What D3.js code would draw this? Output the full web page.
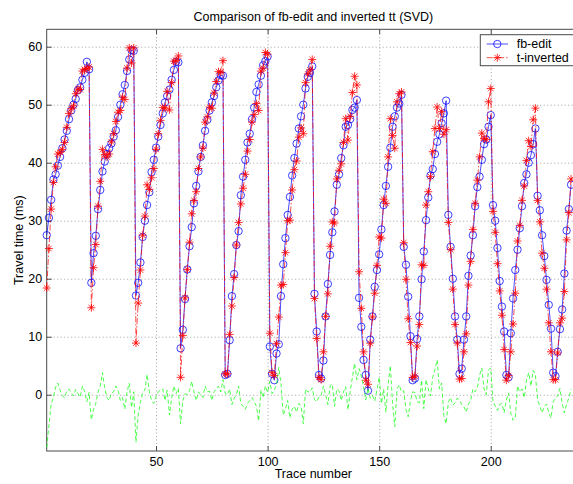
<!DOCTYPE html>
<html>
<head>
<meta charset="utf-8">
<script src="https://cdn.jsdelivr.net/npm/d3@7"></script>
<style>
  body { margin: 0; background: #fff; }
  text { font-family: "Liberation Sans", Arial, sans-serif; }
</style>
</head>
<body>
<svg id="chart" width="573" height="484"></svg>
<script>
// trace numbers along the line
var traces = d3.range(1, 237);

// picked (fb-edit) travel times, ms
var fbEdit = [
  27.5, 30.5, 33.6, 37.1, 38.0, 39.5, 41.0, 42.5, 44.0, 45.5, 47.5, 49.0, 50.0, 51.0, 52.5, 53.0, 54.3, 55.5, 57.4, 56.1,
  19.3, 24.4, 27.4, 32.0, 35.3, 38.5, 40.2, 41.5, 42.5, 43.3, 44.5, 45.6, 47.9, 50.0, 51.8, 53.4, 55.8, 57.8, 59.4, 59.3,
  17.1, 19.3, 22.8, 27.2, 30.0, 32.7, 34.9, 38.4, 40.5, 42.6, 44.5, 46.5, 48.5, 50.4, 51.5, 52.6, 54.3, 56.0, 57.4, 57.3,
  8.0, 11.2, 16.5, 21.6, 25.6, 28.9, 33.0, 36.0, 38.5, 41.0, 43.0, 45.5, 47.4, 49.0, 50.4, 51.5, 53.0, 54.2, 55.1, 55.0,
  3.4, 3.6, 9.4, 17.0, 20.8, 25.8, 28.2, 34.4, 37.6, 40.5, 43.5, 45.0, 47.5, 49.5, 52.2, 53.5, 55.0, 56.8, 57.5, 58.3,
  8.3, 3.6, 2.5, 7.1, 8.7, 17.0, 22.5, 27.0, 31.0, 34.1, 37.8, 40.8, 43.3, 45.9, 48.0, 50.0, 52.8, 54.8, 55.5, 56.6,
  17.4, 10.9, 3.4, 2.8, 5.9, 13.5, 19.1, 24.1, 28.0, 31.6, 36.2, 38.0, 40.8, 43.0, 46.2, 46.5, 47.5, 49.1, 49.5, 50.8,
  16.7, 11.7, 6.0, 3.4, 0.7, 9.5, 13.5, 18.6, 21.5, 24.2, 28.5, 32.7, 36.0, 39.3, 42.6, 46.2, 48.0, 49.5, 50.2, 51.7,
  25.5, 22.4, 16.9, 10.1, 2.5, 2.8, 9.6, 13.5, 19.9, 24.7, 30.1, 34.0, 37.8, 38.9, 41.5, 43.6, 44.9, 46.8, 48.5, 50.7,
  31.0, 25.5, 20.0, 13.5, 9.5, 3.6, 4.5, 9.5, 13.5, 20.5, 24.0, 27.5, 32.5, 35.8, 37.6, 40.5, 43.2, 44.0, 46.2, 48.2,
  32.7, 30.0, 25.3, 19.6, 15.2, 10.9, 3.4, 3.0, 10.6, 16.6, 21.5, 25.0, 28.7, 32.5, 36.5, 38.0, 40.0, 41.3, 43.2, 45.9,
  34.3, 31.8, 27.5, 23.9, 19.8, 15.5, 11.4, 3.8, 3.2, 7.4, 11.3, 14.7, 20.9, 28.3, 32.0, 36.2
];

// inverted travel times (SVD), ms
var tInverted = [
  18.4, 25.2, 32.0, 36.6, 39.3, 41.5, 41.8, 42.3, 43.5, 46.1, 48.5, 49.3, 49.8, 51.9, 52.7, 52.6, 55.8, 56.1, 56.2, 56.5,
  15.0, 21.9, 25.9, 32.5, 36.8, 42.3, 41.4, 41.0, 41.5, 43.6, 45.0, 47.1, 48.7, 49.0, 51.3, 50.9, 56.3, 59.8, 57.2, 59.8,
  8.9, 15.8, 21.5, 27.5, 30.8, 36.2, 35.4, 37.4, 39.0, 42.3, 45.0, 47.3, 49.5, 49.4, 52.3, 49.1, 53.8, 57.5, 57.6, 58.4,
  3.0, 10.2, 16.7, 21.6, 26.3, 31.2, 33.5, 35.0, 39.0, 41.0, 42.5, 47.0, 47.9, 49.6, 49.4, 52.0, 54.0, 55.7, 55.6, 57.6,
  3.6, 3.6, 10.4, 15.3, 20.2, 25.8, 29.7, 32.9, 35.6, 38.0, 42.0, 44.0, 47.0, 48.3, 50.2, 49.0, 55.8, 56.3, 59.0, 58.7,
  10.6, 3.8, 3.3, 8.8, 13.4, 18.9, 19.0, 24.5, 30.0, 30.1, 35.3, 38.8, 40.3, 44.4, 46.0, 45.0, 53.8, 55.3, 56.0, 57.8,
  16.6, 9.7, 3.0, 2.6, 7.4, 13.5, 17.4, 25.6, 29.8, 29.6, 37.2, 38.7, 39.8, 43.5, 47.6, 43.9, 48.0, 52.1, 54.9, 53.4,
  21.2, 14.9, 7.4, 2.5, 1.8, 8.9, 13.4, 17.5, 22.3, 27.2, 27.0, 33.7, 33.0, 41.0, 47.6, 44.7, 42.5, 50.5, 51.9, 52.2,
  26.2, 19.9, 13.1, 9.0, 3.0, 3.2, 8.4, 12.1, 22.4, 22.3, 32.7, 35.0, 37.6, 41.9, 45.9, 49.6, 45.9, 48.8, 44.9, 45.7,
  29.7, 25.0, 18.2, 12.1, 8.9, 2.7, 2.8, 7.4, 10.5, 18.9, 23.0, 28.5, 33.0, 37.0, 41.0, 45.1, 44.2, 44.0, 50.5, 52.8,
  31.6, 28.0, 22.6, 17.9, 13.7, 7.8, 2.5, 3.3, 7.4, 12.2, 17.5, 26.5, 29.2, 33.5, 36.0, 40.4, 43.8, 42.8, 47.4, 49.4,
  33.5, 29.8, 24.4, 21.8, 18.2, 12.4, 7.4, 2.6, 2.6, 7.2, 12.4, 13.2, 17.8, 26.7, 31.4, 37.2
];

// difference curve (green dashed)
var ttDiff = [
  -9.1, -5.3, -1.6, -0.5, 1.3, 2.0, 0.8, -0.2, -0.5, 0.6, 1.0, 0.3, -0.2, 0.9, 0.2, -0.4, 1.5, 0.6, -1.2, 0.4,
  -4.3, -2.5, -1.5, 0.5, 1.5, 3.8, 1.2, -0.5, -1.0, 0.3, 0.5, 1.5, 0.8, -1.0, -0.5, -2.5, 0.5, 2.0, -2.2, 0.5,
  -8.2, -3.5, -1.3, 0.3, 0.8, 3.5, 0.5, -1.0, -1.5, -0.3, 0.5, 0.8, 1.0, -1.0, 0.8, -3.5, -0.5, 1.5, 0.2, 1.1,
  -5.0, -1.0, 0.2, 0.0, 0.7, 2.3, 0.5, -1.0, 0.5, 0.0, -0.5, 1.5, 0.5, 0.6, -1.0, 0.5, 1.0, 1.5, 0.5, 2.6,
  0.2, 0.0, 1.0, -1.7, -0.6, 0.0, 1.5, -1.5, -2.0, -2.5, -1.5, -1.0, -0.5, -1.2, -2.0, -4.5, 0.8, -0.5, 1.5, 0.4,
  2.3, 0.2, 0.8, 1.7, 4.7, 1.9, -3.5, -2.5, -1.0, -4.0, -2.5, -2.0, -3.0, -1.5, -2.0, -5.0, 1.0, 0.5, 0.5, 1.2,
  -0.8, -1.2, -0.4, -0.2, 1.5, 0.0, -1.7, 1.5, 1.8, -2.0, 1.0, 0.7, -1.0, 0.5, 1.4, -2.6, 0.5, 3.0, 5.4, 2.6,
  4.5, 3.2, 1.4, -0.9, 1.1, -0.6, -0.1, -1.1, 0.8, 3.0, -1.5, 1.0, -3.0, 1.7, 5.0, -1.5, -5.5, 1.0, 1.7, 0.5,
  0.7, -2.5, -3.8, -1.1, 0.5, 0.4, -1.2, -1.4, 2.5, -2.4, 2.6, 1.0, -0.2, 3.0, 4.4, 6.0, 1.0, 2.0, -3.6, -5.0,
  -1.3, -0.5, -1.8, -1.4, -0.6, -0.9, -1.7, -2.1, -3.0, -1.6, -1.0, 1.0, 0.5, 1.2, 3.4, 4.6, 1.0, 0.0, 4.3, 4.6,
  -1.1, -2.0, -2.7, -1.7, -1.5, -3.1, -0.9, 0.3, -3.2, -4.4, -4.0, 1.5, 0.5, 1.0, -0.5, 2.4, 3.8, 1.5, 4.2, 3.5,
  -0.8, -2.0, -3.1, -2.1, -1.6, -3.1, -4.0, -1.2, -0.6, -0.2, 1.1, -1.5, -3.1, -1.6, -0.6, 1.0
];

var xTicks = [50, 100, 150, 200];
var yTicks = [0, 10, 20, 30, 40, 50, 60];
var legendNames = ["fb-edit", "t-inverted"];

var svg = d3.select("#chart");

// axes box (right side runs just past the picture)
var plotL = 46.7, plotR = 580, plotT = 29.3, plotB = 451;

var x = d3.scaleLinear().domain([1, 240]).range([plotL, plotR]);
var y = d3.scaleLinear().domain([-9.7, 63]).range([plotB, plotT]);

// dotted grid
svg.append("g")
    .attr("transform", "translate(0," + plotB + ")")
    .call(d3.axisBottom(x).tickValues(xTicks).tickSize(-(plotB - plotT)).tickFormat(""))
    .call(g => g.select(".domain").remove())
    .selectAll("line")
    .attr("stroke", "#8c8c8c")
    .attr("stroke-width", 0.8)
    .attr("stroke-dasharray", "1,2.5");

svg.append("g")
    .attr("transform", "translate(" + plotL + ",0)")
    .call(d3.axisLeft(y).tickValues(yTicks).tickSize(-(plotR - plotL)).tickFormat(""))
    .call(g => g.select(".domain").remove())
    .selectAll("line")
    .attr("stroke", "#8c8c8c")
    .attr("stroke-width", 0.8)
    .attr("stroke-dasharray", "1,2.5");

// frame
svg.append("rect")
    .attr("x", plotL).attr("y", plotT)
    .attr("width", plotR - plotL).attr("height", plotB - plotT)
    .attr("fill", "none")
    .attr("stroke", "#4a4a4a")
    .attr("stroke-width", 1);

// ticks point inward, MATLAB style
var xAxis = svg.append("g")
    .attr("transform", "translate(0," + plotB + ")")
    .call(d3.axisBottom(x).tickValues(xTicks).tickSize(-5).tickSizeOuter(0).tickPadding(6.5));
var xTop = svg.append("g")
    .attr("transform", "translate(0," + plotT + ")")
    .call(d3.axisTop(x).tickValues(xTicks).tickSize(-5).tickSizeOuter(0).tickFormat(""));
var yAxis = svg.append("g")
    .attr("transform", "translate(" + plotL + ",0)")
    .call(d3.axisLeft(y).tickValues(yTicks).tickSize(-5).tickSizeOuter(0).tickPadding(4.5));

[xAxis, xTop, yAxis].forEach(function(g) {
    g.select(".domain").remove();
    g.selectAll("line").attr("stroke", "#4a4a4a");
    g.selectAll("text")
        .attr("fill", "#000")
        .style("font-size", "12.5px")
        .style("font-family", "'Liberation Sans', Arial, sans-serif");
});

// series
var line = function(vals) {
    return d3.line()
        .x(function(d, i) { return x(traces[i]); })
        .y(function(d) { return y(d); })(vals);
};

svg.append("path")
    .attr("d", line(fbEdit))
    .attr("fill", "none")
    .attr("stroke", "#0000ff")
    .attr("stroke-width", 0.7);

svg.append("g").selectAll("circle")
    .data(fbEdit)
    .enter().append("circle")
    .attr("cx", function(d, i) { return x(traces[i]); })
    .attr("cy", function(d) { return y(d); })
    .attr("r", 3.7)
    .attr("fill", "none")
    .attr("stroke", "#0000ff")
    .attr("stroke-width", 0.75);

var star = "M-4,0H4M0,-4V4M-2.8,-2.8L2.8,2.8M-2.8,2.8L2.8,-2.8";

svg.append("path")
    .attr("d", line(tInverted))
    .attr("fill", "none")
    .attr("stroke", "#ff0000")
    .attr("stroke-width", 0.7)
    .attr("stroke-dasharray", "6,2,1.5,2");

svg.append("g").selectAll("path")
    .data(tInverted)
    .enter().append("path")
    .attr("transform", function(d, i) { return "translate(" + x(traces[i]) + "," + y(d) + ")"; })
    .attr("d", star)
    .attr("fill", "none")
    .attr("stroke", "#ff0000")
    .attr("stroke-width", 0.8);

svg.append("path")
    .attr("d", line(ttDiff))
    .attr("fill", "none")
    .attr("stroke", "#00ff00")
    .attr("stroke-width", 0.7)
    .attr("stroke-dasharray", "4,2.5");

// title and axis labels
svg.append("text")
    .attr("x", (plotL + plotR) / 2).attr("y", 20.5)
    .attr("text-anchor", "middle")
    .style("font-size", "12.5px")
    .text("Comparison of fb-edit and inverted tt (SVD)");

svg.append("text")
    .attr("x", (plotL + plotR) / 2).attr("y", 478)
    .attr("text-anchor", "middle")
    .style("font-size", "12.5px")
    .text("Trace number");

svg.append("text")
    .attr("transform", "translate(23," + (plotT + plotB) / 2 + ")rotate(-90)")
    .attr("text-anchor", "middle")
    .style("font-size", "12.5px")
    .text("Travel time (ms)");

// legend
var legend = svg.append("g");
legend.append("rect")
    .attr("x", 480.3).attr("y", 34.7)
    .attr("width", 96).attr("height", 31)
    .attr("fill", "#fff")
    .attr("stroke", "#4a4a4a")
    .attr("stroke-width", 1);

var rows = [44, 57.7];
legendNames.forEach(function(name, i) {
    var g = legend.append("g").attr("transform", "translate(0," + rows[i] + ")");
    g.append("line")
        .attr("x1", 486.7).attr("x2", 508)
        .attr("stroke", i === 0 ? "#0000ff" : "#ff0000")
        .attr("stroke-width", 0.7)
        .attr("stroke-dasharray", i === 0 ? null : "6,2,1.5,2");
    if (i === 0) {
        g.append("circle").attr("cx", 497.3).attr("r", 3.7)
            .attr("fill", "none").attr("stroke", "#0000ff").attr("stroke-width", 0.75);
    } else {
        g.append("path").attr("transform", "translate(497.3,0)").attr("d", star)
            .attr("fill", "none").attr("stroke", "#ff0000").attr("stroke-width", 0.8);
    }
    g.append("text")
        .attr("x", 516.7).attr("y", 4.3)
        .style("font-size", "12.5px")
        .text(name);
});
</script>
</body>
</html>
